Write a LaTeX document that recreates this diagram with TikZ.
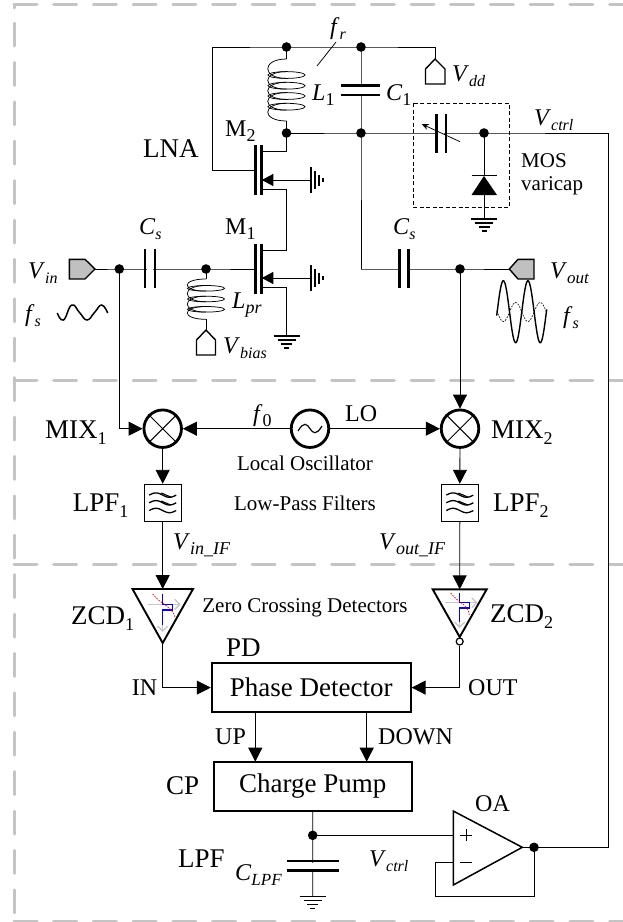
\documentclass[tikz,border=0pt]{standalone}
\usepackage{fontspec}
\setmainfont{Liberation Serif}
\usetikzlibrary{arrows.meta,calc}
\definecolor{dashgray}{HTML}{C4C4C4}
\definecolor{pingray}{HTML}{C0C0C0}
\newcommand\fsize[1]{\fontsize{#1}{#1}\selectfont}
\newcommand\Sbi[2]{\textit{#1}\raisebox{-.24em}{\fsize{16}\itshape #2}}
\newcommand\Sbr[2]{#1\raisebox{-.24em}{\fsize{18}#2}}
\newcommand\dotat[1]{\fill (#1) circle[radius=4.8];}
\newcommand\gnd[1]{\draw[gndbar] ($(#1)+(-13,0)$)--($(#1)+(13,0)$);
  \draw[gndbar] ($(#1)+(-9,4)$)--($(#1)+(9,4)$);
  \draw[gndbar] ($(#1)+(-5.5,8)$)--($(#1)+(5.5,8)$);
  \draw[gndbar] ($(#1)+(-2.5,12)$)--($(#1)+(2.5,12)$);}
\newcommand\gndr[1]{\draw[gndbar] ($(#1)+(0,-13)$)--($(#1)+(0,13)$);
  \draw[gndbar] ($(#1)+(4,-9)$)--($(#1)+(4,9)$);
  \draw[gndbar] ($(#1)+(8,-5.5)$)--($(#1)+(8,5.5)$);
  \draw[gndbar] ($(#1)+(12,-2)$)--($(#1)+(12,2)$);}
% coil: centre x, top y, bottom y, list of ellipse levels, half height
\newcommand\coil[5]{%
  \foreach \yy in {#4}{\draw[thinw] (#1,\yy) ellipse[x radius=18.5,y radius=#5];}
  \foreach \yy [remember=\yy as \last (initially #2)] in {#4}{%
    \ifdim\last pt=#2pt
      \draw[thinw] (#1,#2) .. controls (#1-25,#2) and (#1-25,\yy+#5) .. (#1,\yy+#5);
    \else
      \draw[thinw] (#1,\last-#5) .. controls (#1-25,\last-#5) and (#1-25,\yy+#5) .. (#1,\yy+#5);
    \fi
    \xdef\lastlevel{\yy}}%
  \draw[thinw] (#1,\lastlevel-#5) .. controls (#1-25,\lastlevel-#5) and (#1-25,#3) .. (#1,#3);}
\newcommand\fet[3]{% gate-x is fixed; #1 name prefix, #2 top y, #3 body y
  \draw[thickbar] (255.7,#2)--(255.7,#2+50);
  \draw[thickbar] (261.3,#2)--(261.3,#2+50);
  \draw[wire,-{Triangle[length=11.5pt,width=12pt]}] (311,#3)--(261.8,#3);
  \gndr{311,#3}}
\newcommand\filt[1]{\foreach \dy in {-7.7,0,7.7}{
  \draw[line width=1.3pt] plot[domain=0:1,samples=25] ({#1-13.5+27*\x},{502.8+\dy-2.2*sin(360*\x)});}
  \draw[line width=1.1pt] (#1-1.5,493)--(#1+8,497);\draw[line width=1.1pt] (#1-1.5,501)--(#1+8,505);}
\newcommand\zcdsym[5]{% cx, y of horizontal, y second, bottom blue, gray bottom
  \draw[line width=1.3pt,gray!45,-{Straight Barb[length=5pt,width=10pt]}] (#1-15,#2)--(#1+18,#2);
  \draw[line width=1.3pt,gray!45,-{Straight Barb[length=5pt,width=10pt]}] (#1,#3)--(#1,#5);
  \draw[line width=1.5pt,blue] (#1,#2-10)--(#1,#2)--(#1+10,#2)--(#1+10,#3)--(#1,#3)--(#1,#4);}
\tikzset{
  wire/.style={line width=0.9pt},
  thinw/.style={line width=0.75pt},
  thickbar/.style={line width=2.6pt},
  gndbar/.style={line width=1.4pt},
  plate/.style={line width=2.9pt},
  border/.style={draw=dashgray,line width=3pt,line cap=round,dash pattern=on 23pt off 16.7pt},
  borderv/.style={draw=dashgray,line width=3pt,line cap=round,dash pattern=on 23pt off 16.4pt},
  arrowwire/.style={wire,-{Triangle[length=14pt,width=14pt]}},
  lab/.style={inner sep=0pt,anchor=base west,font=\fsize{24}},
  labbig/.style={lab,font=\fsize{27}},
  labsmall/.style={lab,font=\fsize{21}},
  labmid/.style={inner sep=0pt,anchor=base,font=\fsize{21}},
  pinshape/.style={line width=1.4pt,line join=miter},
  blockbox/.style={draw,line width=1.9pt,inner sep=0pt,font=\fsize{27}},
  lpfbox/.style={draw,line width=1pt,inner sep=0pt,minimum size=37pt},
  mixer/.style={draw,circle,line width=2.8pt,inner sep=0pt,minimum size=37.5pt},
}
\begin{document}
\begin{tikzpicture}[x=1pt,y=-1pt]
\path[use as bounding box] (0,0) rectangle (623,922);
% region borders
\draw[border] (14,4.7)--(623,4.7);
\draw[border] (14,380)--(623,380);
\draw[border] (14,564)--(623,564);
\draw[border] (14,921)--(623,921);
\draw[borderv] (14,23)--(14,921);
\draw[draw=dashgray,line width=3pt,line cap=round] (14,4.7)--(14,8);

% junctions
\coordinate (railL) at (212,47);
\coordinate (railA) at (286.5,47);
\coordinate (railB) at (361,47);
\coordinate (railR) at (435,47);
\coordinate (nodeD) at (286.5,133);
\coordinate (nodeC) at (361,133);
\coordinate (nodeV) at (484,133);
\coordinate (cornerR) at (608.3,133);
\coordinate (gate2L) at (212,170);
\coordinate (gate2) at (255.7,170);
\coordinate (inJ) at (119.3,269);
\coordinate (gateJ) at (206,269);
\coordinate (gate1) at (255.7,269);
\coordinate (outJ) at (460,269);
\coordinate (midC) at (361,269);
\coordinate (vinTip) at (95,269);
\coordinate (voutTip) at (509.3,269);
\coordinate (vddTop) at (435,59);
\coordinate (vbiasTop) at (206,330);
\coordinate (gnd1) at (286.6,336);
\coordinate (gndD) at (484,219);
\coordinate (gndC) at (312.7,896.7);

% supply rail and tank
\draw[wire] (gate2)--(gate2L)--(railL)--(railA)--(railB)--(railR)--(vddTop);
\draw[pinshape] (435,59)--(445,69)--(445,84)--(425.5,84)--(425.5,69)--cycle;
\draw[wire] (railA)--(286.5,59);
\coil{286.5}{59}{121}{75,85.7,96,106.7}{3.4}
\draw[wire] (286.5,121)--(nodeD)--(286.5,151.7)--(261.3,151.7);
\draw[wire] (railB)--(nodeC)--(midC);
\draw[plate] (341,85.7)--(380,85.7);
\draw[plate] (341,95)--(380,95);
\fill[white] (350,87.2) rectangle (372,93.5);
\draw[thinw] (336,42)--(317,66);
% varicap line and feedback
\draw[wire] (nodeD)--(nodeC)--(nodeV)--(cornerR);
\dotat{railA}\dotat{railB}\dotat{nodeD}\dotat{nodeC}\dotat{nodeV}
\draw[plate] (436.7,114)--(436.7,153);
\draw[plate] (446,114)--(446,153);
\fill[white] (438.3,125) rectangle (444.4,141);
\draw[thinw,-{Stealth[length=7pt,width=6pt]}] (460,141.7)--(421.7,124);
\draw[line width=0.7pt,dash pattern=on 4pt off 2.5pt] (413,103) rectangle (509.5,207);
\draw[wire] (nodeV)--(484,176);
\draw[line width=1.5pt] (471.5,175.7)--(497,175.7);
\fill (484,176)--(497,195)--(471.5,195)--cycle;
\draw[wire] (484,195)--(gndD);
\gnd{gndD}
% transistors
\fet{m2}{145}{180}
\fet{m1}{243.5}{278}
\draw[wire] (261.3,189)--(286.6,189)--(286.6,250)--(261.3,250);
\draw[wire] (261.3,287.7)--(286.6,287.7)--(gnd1);
\gnd{gnd1}
% input
\draw[pinshape,fill=pingray] (69.3,259.3)--(85,259.3)--(vinTip)--(85,279)--(69.3,279)--cycle;
\draw[wire] (vinTip)--(inJ)--(gateJ)--(gate1);
\draw[plate] (145,249.3)--(145,288);
\draw[plate] (155,249.3)--(155,288);
\fill[white] (146.6,262) rectangle (153.4,276);
\dotat{inJ}\dotat{gateJ}
\draw[wire] (gateJ)--(206,279);
\coil{206}{279}{319.3}{288.3,299,309.3}{2.8}
\draw[wire] (206,319.3)--(vbiasTop);
\draw[pinshape] (206,330)--(215.5,340)--(215.5,355)--(196.5,355)--(196.5,340)--cycle;
\draw[line width=1.5pt] plot[smooth,tension=0.8] coordinates {(57.3,313)(63.5,320)(71.7,305)(79.5,312.5)(87,320)(94.5,312.5)(101.7,305)(107.7,313)};
% output
\draw[wire] (midC)--(outJ)--(voutTip);
\draw[plate] (399.3,249.3)--(399.3,288);
\draw[plate] (408.7,249.3)--(408.7,288);
\fill[white] (400.9,262) rectangle (407.1,276);
\dotat{outJ}
\draw[pinshape,fill=pingray] (voutTip)--(518,259.3)--(534,259.3)--(534,279)--(518,279)--cycle;
\draw[line width=1.4pt] plot[domain=0:50,samples=90] ({496.7+\x},{311.7-31*sin(14.634*(\x-0.5))});
\draw[line width=0.6pt,dash pattern=on 1.8pt off 1.2pt] plot[domain=0:50,samples=90] ({496.7+\x},{312+9.5*sin(14.634*(\x-0.5))});

% mixers, oscillator
\node[mixer] (mix1) at (162.7,428.7) {};
\node[mixer] (mix2) at (460,428.7) {};
\node[mixer] (lo) at (310,428.7) {};
\draw[line width=1pt] (mix1.45)--(mix1.225) (mix1.135)--(mix1.315);
\draw[line width=1pt] (mix2.45)--(mix2.225) (mix2.135)--(mix2.315);
\draw[line width=1.2pt] (298,431) .. controls (304,421) and (307,424) .. (310,428.7) .. controls (313,433) and (316,436) .. (322,426);
\draw[arrowwire] (inJ)--(119.3,428.7)--(mix1.west);
\draw[arrowwire] (lo.west)--(mix1.east);
\draw[arrowwire] (lo.east)--(mix2.west);
\draw[arrowwire] (outJ)--(mix2.north);
% filters
\node[lpfbox] (lpf1) at (162.7,502.8) {};
\node[lpfbox] (lpf2) at (459.8,502.8) {};
\filt{162.7}
\filt{459.8}
\draw[arrowwire] (mix1.south)--(lpf1.north);
\draw[arrowwire] (mix2.south)--(lpf2.north);
% zero crossing detectors
\coordinate (z1top) at (162.7,589);
\coordinate (z1apex) at (162.7,643);
\coordinate (z2top) at (459.7,589.3);
\coordinate (z2apex) at (459.7,637);
\draw[arrowwire] (lpf1.south)--(z1top);
\draw[arrowwire] (lpf2.south)--(z2top);
\zcdsym{162.7}{604.3}{610}{625}{632}
\draw[red,line width=0.7pt,dash pattern=on 1.6pt off 1.2pt] (152.7,594) .. controls (160,604) and (172,606) .. (175,617);
\draw[line width=1.9pt,line join=miter] (132.5,589)--(193,589)--(z1apex)--cycle;
\zcdsym{459.7}{602.7}{608}{622}{628}
\draw[red,line width=0.7pt,dash pattern=on 1.6pt off 1.2pt] (450.7,593) .. controls (458,603) and (468,604) .. (469.3,615);
\draw[line width=1.9pt,line join=miter] (432.7,589.3)--(486.7,589.3)--(z2apex)--cycle;
\node[draw,circle,line width=1.2pt,inner sep=0pt,minimum size=7pt] (inv) at (459.7,641.5) {};
% detector and pump
\node[blockbox,minimum width=199pt,minimum height=48.7pt] (pd) at (311.2,687.6) {Phase Detector};
\node[blockbox,minimum width=198.3pt,minimum height=49pt] (cp) at (312.8,786.2) {Charge Pump};
\draw[arrowwire] (z1apex)--(162.7,687.6)--(pd.west);
\draw[arrowwire] (inv.south)--(459.7,687.6)--(pd.east);
\coordinate (upA) at (255.3,712);
\coordinate (upB) at (255.3,761.7);
\coordinate (dnA) at (366.7,712);
\coordinate (dnB) at (366.7,761.7);
\draw[arrowwire] (upA)--(upB);
\draw[arrowwire] (dnA)--(dnB);
% low-pass capacitor and buffer
\coordinate (capJ) at (312.7,835.3);
\coordinate (oaP) at (453.3,835.3);
\coordinate (oaN) at (453.3,862.7);
\coordinate (oaOut) at (534,847.3);
\coordinate (oaTip) at (522.3,847.3);
\draw[wire] (cp.south)--(capJ)--(gndC);
\draw[plate] (286.7,861)--(339,861);
\draw[plate] (286.7,870.7)--(339,870.7);
\fill[white] (300,862.6) rectangle (325,869.1);
\gnd{gndC}
\draw[wire] (capJ)--(oaP);
\dotat{capJ}
\draw[line width=1.5pt,line join=miter] (453.3,811)--(oaTip)--(453.3,885)--cycle;
\draw[line width=0.8pt] (459.5,835.3)--(472,835.3) (466,829.3)--(466,841.3);
\draw[line width=0.8pt] (459.5,862.7)--(472,862.7);
\draw[wire] (oaTip)--(oaOut)--(534,896.7)--(435,896.7)--(435,862.7)--(oaN);
\draw[wire] (oaOut)--(608.3,847.3)--(cornerR);
\dotat{oaOut}

% labels
\node[lab] (tfr) at (330,34) {\Sbi{f}{r}};
\node[lab] (tvdd) at (452,81) {\Sbi{V}{dd}};
\node[lab] (tl1) at (312,100) {\textit{L}\raisebox{-.24em}{\fsize{18}1}};
\node[lab] (tc1) at (386,100) {\textit{C}\raisebox{-.24em}{\fsize{18}1}};
\node[lab] (tctrl) at (534,125) {\Sbi{V}{ctrl}};
\node[labsmall] (tmos) at (521,167) {MOS};
\node[labsmall] (tvar) at (521,190) {varicap};
\node[labbig] (tlna) at (143,157) {LNA};
\node[lab] (tm2) at (225,136) {\Sbr{M}{2}};
\node[lab] (tm1) at (225,234) {\Sbr{M}{1}};
\node[lab] (tcs1) at (139,234) {\Sbi{C}{s}};
\node[lab] (tcs2) at (393,234) {\Sbi{C}{s}};
\node[lab] (tvin) at (28,278) {\Sbi{V}{in}};
\node[lab] (tfs1) at (25,321) {\Sbi{f}{s}};
\node[lab] (tlpr) at (232,308) {\Sbi{L}{\fsize{18}pr}};
\node[lab] (tvb) at (223,353) {\Sbi{V}{bias}};
\node[lab] (tvout) at (550,278) {\Sbi{V}{\fsize{17}out}};
\node[lab] (tfs2) at (563,323) {\Sbi{f}{s}};
\node[lab] (tf0) at (253,421) {\textit{f}\raisebox{-.24em}{\fsize{18}0}};
\node[lab] (tlo) at (345,421) {LO};
\node[labmid] (tlocal) at (305,470) {Local Oscillator};
\node[labmid] (tlow) at (305,510) {Low-Pass Filters};
\node[labbig] (tmix1) at (45,438) {\Sbr{MIX}{1}};
\node[labbig] (tmix2) at (491,438) {\Sbr{MIX}{2}};
\node[labbig] (tlpf1) at (72.7,511) {\Sbr{LPF}{1}};
\node[labbig] (tlpf2) at (493,511) {\Sbr{LPF}{2}};
\node[lab] (tvif) at (173,549) {\Sbi{V}{\fsize{18}in\_IF}};
\node[lab] (tvof) at (379,549) {\Sbi{V}{\fsize{18}out\_IF}};
\node[labbig] (tz1) at (71,624) {\Sbr{ZCD}{1}};
\node[labbig] (tz2) at (490,622) {\Sbr{ZCD}{2}};
\node[labmid] (tzero) at (305,612) {Zero Crossing Detectors};
\node[labbig] (tpd) at (226,656) {PD};
\node[lab] (tin) at (131.7,695) {IN};
\node[lab] (tout) at (468,695) {OUT};
\node[lab] (tup) at (215,744) {UP};
\node[lab] (tdn) at (378,744) {DOWN};
\node[labbig] (tcp) at (166,794) {CP};
\node[lab] (toa) at (475,811) {OA};
\node[labbig] (tlpf) at (178,867) {LPF};
\node[lab] (tclpf) at (235,880) {\Sbi{C}{\fsize{17}LPF}};
\node[lab] (tvc) at (369,866) {\Sbi{V}{ctrl}};
\end{tikzpicture}
\end{document}
